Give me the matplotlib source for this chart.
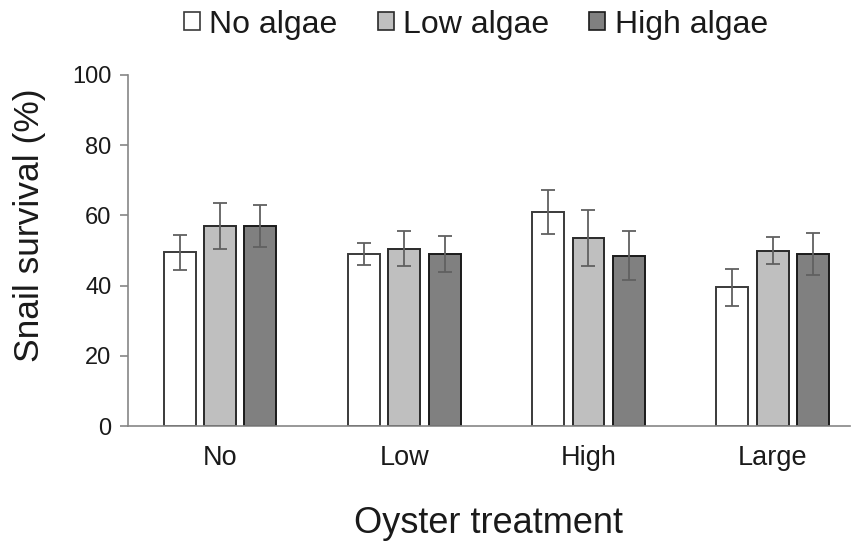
import matplotlib
matplotlib.use("Agg")
import matplotlib.pyplot as plt
import numpy as np
from matplotlib.patches import Patch

plt.rcParams['font.family'] = ['Liberation Sans', 'DejaVu Sans']

groups = ["No", "Low", "High", "Large"]
series = ["No algae", "Low algae", "High algae"]
values = {
    "No algae":   [49.5, 49.0, 61.0, 39.5],
    "Low algae":  [57.0, 50.5, 53.5, 50.0],
    "High algae": [57.0, 49.0, 48.5, 49.0],
}
errors = {
    "No algae":   [5.0, 3.2, 6.2, 5.3],
    "Low algae":  [6.5, 5.0, 8.0, 3.8],
    "High algae": [6.0, 5.0, 7.0, 6.0],
}
colors = ["#ffffff", "#bfbfbf", "#808080"]
edges = ["#3a3a3a", "#2a2a2a", "#1a1a1a"]

fig = plt.figure(figsize=(8.56, 5.45), dpi=100)
ax = fig.add_axes([0.1495, 0.2183, 0.8435, 0.6441])

x = np.arange(len(groups))
offset = 0.219
width = 0.173
for i, s in enumerate(series):
    ax.bar(x + (i - 1) * offset, values[s], width, color=colors[i],
           edgecolor=edges[i], linewidth=1.4, zorder=2)
    ax.errorbar(x + (i - 1) * offset, values[s], yerr=errors[s], fmt='none',
                ecolor="#606060", elinewidth=1.3, capsize=4.8, capthick=1.3, zorder=3)

ax.set_xlim(-0.5, 3.42)
ax.set_ylim(0, 100)
ax.set_yticks([0, 20, 40, 60, 80, 100])
ax.set_xticks(x)
ax.set_xticklabels(groups)
ax.tick_params(axis='y', direction='out', length=6, width=1.2, color="#868686",
               labelsize=17, pad=6, labelcolor="#1a1a1a")
ax.tick_params(axis='x', length=0, labelsize=19.5, pad=14, labelcolor="#1a1a1a")
for sp in ['top', 'right']:
    ax.spines[sp].set_visible(False)
for sp in ['left', 'bottom']:
    ax.spines[sp].set_color("#868686")
    ax.spines[sp].set_linewidth(1.2)

ax.set_ylabel("Snail survival (%)", fontsize=25.5, color="#1a1a1a")
ax.yaxis.set_label_coords(-0.1136, 0.573)
ax.set_xlabel("Oyster treatment", fontsize=26, labelpad=25, color="#1a1a1a")

handles = [Patch(facecolor=colors[i], edgecolor=edges[i], linewidth=1.2, label=s)
           for i, s in enumerate(series)]
leg = fig.legend(handles=handles, loc='center', bbox_to_anchor=(0.556, 0.955), ncol=3,
                 frameon=False, fontsize=23, handlelength=0.5, handleheight=0.5,
                 handletextpad=0.3, columnspacing=1.25)
for t in leg.get_texts():
    t.set_color("#1a1a1a")

fig.savefig("out.png", dpi=100)
